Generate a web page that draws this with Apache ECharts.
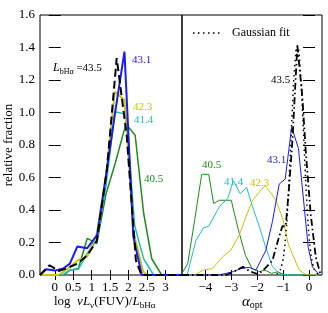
<!DOCTYPE html>
<html><head><meta charset="utf-8">
<script src="https://cdn.jsdelivr.net/npm/echarts@6/dist/echarts.min.js"></script>
<style>html,body{margin:0;padding:0;background:#fff}#c{width:328px;height:313px}</style>
</head><body><div id="c"></div>
<script>
const SERIF = '"Liberation Serif","DejaVu Serif",serif';

// tick values
const fuvTicks = [0, 0.5, 1, 1.5, 2, 2.5, 3];
const alphaTicks = [-4, -3, -2, -1, 0];
const fracTicks = [0, 0.2, 0.4, 0.6, 0.8, 1.0, 1.2, 1.4, 1.6];

// series labels (log L_bHα)
const lumLabels = ['43.5', '43.1', '42.3', '41.4', '40.5'];

// left panel: [log νLν(FUV)/LbHα, relative fraction]
const fuv435 = [[-0.4,0],[-0.14,0.06],[0.1,0.025],[0.36,0.045],[0.62,0.07],[0.88,0.12],[1.14,0.21],[1.41,0.64],[1.68,1.335],[1.95,0.86],[2.2,0.09],[2.35,0],[3.45,0]];
const fuv431 = [[-0.4,0],[-0.23,0.035],[0,0.027],[0.23,0.04],[0.41,0.07],[0.61,0.175],[0.88,0.165],[1.15,0.246],[1.37,0.58],[1.63,0.99],[1.89,1.375],[2.13,0.236],[2.36,0],[3.45,0]];
const fuv423 = [[-0.4,0],[0.1,0],[0.36,0.04],[0.62,0.09],[0.88,0.113],[1.14,0.256],[1.39,0.62],[1.63,1.128],[1.89,1.077],[2.14,0.26],[2.4,0.02],[2.5,0],[3.45,0]];
const fuv414 = [[-0.4,0],[0.2,0],[0.41,0.03],[0.64,0.035],[0.88,0.133],[1.14,0.215],[1.39,0.55],[1.63,1.005],[1.93,0.99],[2.17,0.3],[2.41,0.1],[2.68,0],[3.45,0]];
const fuv405 = [[-0.4,0],[0.25,0],[0.41,0.03],[0.64,0.04],[0.88,0.225],[1.14,0.195],[1.39,0.5],[1.63,0.68],[1.93,0.93],[2.18,0.86],[2.41,0.38],[2.63,0.1],[2.9,0],[3.45,0]];

// right panel: [α_opt, relative fraction]
const alp435 = [[-4.9,0],[-3.2,0],[-2.9,0.02],[-2.55,0.05],[-2.25,0.02],[-1.95,0.005],[-1.7,0.04],[-1.41,0.09],[-1.22,0.2],[-1.03,0.3],[-0.9,0.3],[-0.77,0.54],[-0.64,0.83],[-0.45,1.41],[-0.26,1.1],[-0.13,0.77],[0.06,0.38],[0.26,0.11],[0.45,0]];
const alp431 = [[-4.9,0],[-3.5,0],[-3.2,0.01],[-2.95,0.02],[-2.63,0.04],[-2.31,0.047],[-2.05,0.03],[-1.67,0.15],[-1.41,0.33],[-1.15,0.56],[-0.92,0.59],[-0.67,0.91],[-0.41,0.78],[-0.03,0.17],[0.13,0.05],[0.4,0],[0.5,0]];
const alp423 = [[-4.9,0],[-4.4,0],[-4.1,0.03],[-3.72,0.04],[-3.33,0.113],[-3.01,0.154],[-2.69,0.246],[-2.43,0.36],[-2.18,0.46],[-1.92,0.51],[-1.7,0.55],[-1.45,0.5],[-1.28,0.46],[-1.0,0.34],[-0.8,0.19],[-0.38,0.03],[-0.1,0],[0.5,0]];
const alp414 = [[-4.9,0],[-4.7,0],[-4.36,0.215],[-4.07,0.29],[-3.87,0.3],[-3.46,0.42],[-3.14,0.47],[-2.92,0.58],[-2.65,0.5],[-2.41,0.54],[-2.18,0.42],[-1.92,0.3],[-1.67,0.17],[-1.41,0.05],[-1.15,0.01],[-0.9,0],[0.5,0]];
const alp405 = [[-4.9,0.01],[-4.68,0.07],[-4.41,0.34],[-4.14,0.62],[-3.87,0.62],[-3.68,0.44],[-3.46,0.46],[-3.0,0.46],[-2.73,0.28],[-2.45,0.12],[-2.2,0.04],[-1.95,0.02],[-1.7,0.03],[-1.45,0.01],[-1.2,0.02],[-0.95,0],[0.5,0]];
// Gaussian fit (dotted)
const gaussFit = [[-1.25,0.005],[-1.15,0.02],[-1.05,0.062],[-0.95,0.16],[-0.85,0.35],[-0.75,0.65],[-0.65,1.0],[-0.55,1.29],[-0.45,1.41],[-0.35,1.29],[-0.25,1.0],[-0.15,0.65],[-0.05,0.35],[0.05,0.16],[0.15,0.062],[0.25,0.02],[0.35,0.005]];

const C = {k:'#000000', b:'#1a1aff', y:'#c8c400', c:'#20c0c0', g:'#1e8c1e'};

function xAx(grid, min, max, ticks, pos, showLabel, fmt) {
  return {
    type:'value', gridIndex:grid, min:min, max:max, position:pos,
    axisLine:{show:false}, splitLine:{show:false},
    axisTick:{show:true, inside:true, length:5, customValues:ticks, lineStyle:{color:'#000'}},
    axisLabel:{show:showLabel, customValues:ticks, fontFamily:SERIF, fontSize:13, color:'#000', margin:6, formatter:fmt}
  };
}
function yAx(grid, pos, showLabel) {
  return {
    type:'value', gridIndex:grid, min:0, max:1.6, interval:0.2, position:pos,
    axisLine:{show:false}, splitLine:{show:false},
    axisTick:{show:true, inside:true, length:6, lineStyle:{color:'#000'}},
    axisLabel:{show:showLabel, fontFamily:SERIF, fontSize:13, color:'#000', margin:5, formatter:v=>v.toFixed(1)}
  };
}
function ln(data, xi, yi, color, width, type, smooth) {
  return {type:'line', data:data, xAxisIndex:xi, yAxisIndex:yi, symbol:'none', smooth:!!smooth,
    lineStyle:{color:color, width:width, type:type||'solid'}, silent:true, animation:false};
}
const minusFmt = v => String(v).replace('-', '\u2212');

const subRich = {
  n:{fontFamily:SERIF, fontSize:13, lineHeight:16, color:'#000'},
  i:{fontFamily:SERIF, fontSize:13, fontStyle:'italic', lineHeight:16, color:'#000'},
  s:{fontFamily:SERIF, fontSize:9, lineHeight:9, verticalAlign:'bottom', color:'#000'},
  a:{fontFamily:SERIF, fontSize:15, fontStyle:'italic', lineHeight:17, color:'#000'},
  s2:{fontFamily:SERIF, fontSize:10, lineHeight:10, verticalAlign:'bottom', color:'#000'},
  ni:{fontFamily:SERIF, fontSize:12, fontStyle:'italic', lineHeight:15, color:'#000'},
  nn:{fontFamily:SERIF, fontSize:11, lineHeight:15, color:'#000'},
  ss:{fontFamily:SERIF, fontSize:8, lineHeight:8, verticalAlign:'bottom', color:'#000'}
};
function txt(x, y, text, color, size, align) {
  return {type:'text', silent:true, style:{x:x, y:y, text:text, fill:color, fontFamily:SERIF, fontSize:size||11, align:align||'left', verticalAlign:'middle'}};
}

const chart = echarts.init(document.getElementById('c'), null, {renderer:'canvas'});
chart.setOption({
  animation:false,
  backgroundColor:'#fff',
  grid:[
    {left:40, top:15, width:142, height:260, show:true, borderColor:'#000', borderWidth:1, backgroundColor:'transparent'},
    {left:182, top:15, width:140, height:260, show:true, borderColor:'#000', borderWidth:1, backgroundColor:'transparent'}
  ],
  xAxis:[
    xAx(0, -0.4, 3.45, fuvTicks, 'bottom', true),
    xAx(0, -0.4, 3.45, fuvTicks, 'top', false),
    xAx(1, -4.9, 0.5, alphaTicks, 'bottom', true, minusFmt),
    xAx(1, -4.9, 0.5, alphaTicks, 'top', false)
  ],
  yAxis:[ yAx(0,'left',true), yAx(0,'right',false), yAx(1,'left',false), yAx(1,'right',false) ],
  series:[
    ln(fuv405, 0, 0, C.g, 1.5),
    ln(fuv414, 0, 0, C.c, 1.5),
    ln(fuv423, 0, 0, C.y, 1.8),
    ln(fuv431, 0, 0, C.b, 2),
    ln(fuv435, 0, 0, C.k, 2, [8,4]),
    ln(alp405, 2, 2, C.g, 1),
    ln(alp414, 2, 2, C.c, 1),
    ln(alp423, 2, 2, C.y, 1),
    ln(alp431, 2, 2, C.b, 1),
    ln(gaussFit, 2, 2, C.k, 1.5, [1.5,3.5], true),
    ln(alp435, 2, 2, C.k, 1.8, [7,3,1.5,3])
  ],
  graphic:[
    // y axis title
    {type:'text', silent:true, x:9, y:145, rotation:Math.PI/2,
     style:{x:0, y:0, text:'relative fraction', fill:'#000', fontFamily:SERIF, fontSize:13, align:'center', verticalAlign:'middle'}},
    // x axis titles
    {type:'text', silent:true, style:{x:54, y:302, align:'left', verticalAlign:'middle',
      text:'{n|log  }{i|\u03bdL}{s|\u03bd}{n|(FUV)/}{i|L}{s|bH\u03b1}', rich:subRich}},
    {type:'text', silent:true, style:{x:242, y:302, align:'left', verticalAlign:'middle',
      text:'{a|\u03b1}{s2|opt}', rich:subRich}},
    // left panel labels
    {type:'text', silent:true, style:{x:53, y:68, align:'left', verticalAlign:'middle',
      text:'{ni|L}{ss|bH\u03b1}{nn| =' + lumLabels[0] + '}', rich:subRich}},
    txt(132, 60.5, lumLabels[1], C.b),
    txt(133, 107, lumLabels[2], C.y),
    txt(134, 120.5, lumLabels[3], C.c),
    txt(144, 179.5, lumLabels[4], C.g),
    // right panel labels
    txt(271, 80.5, lumLabels[0], C.k),
    txt(267, 160, lumLabels[1], C.b),
    txt(250, 183, lumLabels[2], C.y),
    txt(224, 182.5, lumLabels[3], C.c),
    txt(202, 165.5, lumLabels[4], C.g),
    // legend
    {type:'line', silent:true, shape:{x1:193, y1:33, x2:222, y2:33}, style:{stroke:'#000', lineWidth:1.5, lineDash:[1.5,3.5]}},
    txt(232, 33, 'Gaussian fit', '#000', 12)
  ]
});
</script></body></html>
